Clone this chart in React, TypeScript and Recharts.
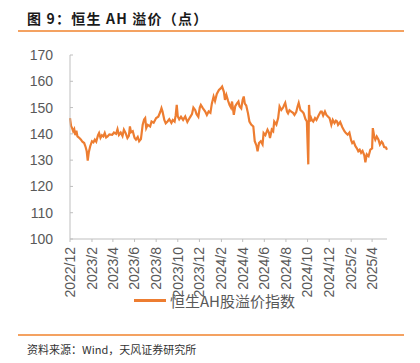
import { LineChart, Line, XAxis, YAxis } from "recharts";

const dates = [
  "2022-12-01", "2022-12-04", "2022-12-07", "2022-12-10", "2022-12-13", "2022-12-16", "2022-12-19", "2022-12-22", "2022-12-27",
  "2023-01-01", "2023-01-05", "2023-01-10", "2023-01-14", "2023-01-17", "2023-01-20", "2023-01-23", "2023-01-27",
  "2023-02-01", "2023-02-05", "2023-02-09", "2023-02-13", "2023-02-18", "2023-02-21", "2023-02-25",
  "2023-03-01", "2023-03-05", "2023-03-09", "2023-03-13", "2023-03-17", "2023-03-22", "2023-03-30",
  "2023-04-04", "2023-04-10", "2023-04-14", "2023-04-18", "2023-04-23", "2023-04-28",
  "2023-05-02", "2023-05-07", "2023-05-12", "2023-05-16", "2023-05-19", "2023-05-22", "2023-05-27",
  "2023-06-01", "2023-06-05", "2023-06-10", "2023-06-14", "2023-06-19", "2023-06-24", "2023-06-28",
  "2023-07-01", "2023-07-04", "2023-07-08", "2023-07-15", "2023-07-19", "2023-07-25",
  "2023-08-01", "2023-08-07", "2023-08-13", "2023-08-16", "2023-08-19", "2023-08-24", "2023-08-28",
  "2023-09-02", "2023-09-07", "2023-09-13", "2023-09-17", "2023-09-22", "2023-09-25", "2023-09-28",
  "2023-10-01", "2023-10-05", "2023-10-10", "2023-10-16", "2023-10-22", "2023-10-28",
  "2023-11-04", "2023-11-10", "2023-11-14", "2023-11-19", "2023-11-23", "2023-11-28",
  "2023-12-02", "2023-12-05", "2023-12-11", "2023-12-17", "2023-12-22", "2023-12-27",
  "2024-01-01", "2024-01-05", "2024-01-10", "2024-01-14", "2024-01-19", "2024-01-25", "2024-01-30",
  "2024-02-03", "2024-02-08", "2024-02-11", "2024-02-15", "2024-02-20", "2024-02-24", "2024-02-28",
  "2024-03-02", "2024-03-07", "2024-03-11", "2024-03-16", "2024-03-20", "2024-03-23", "2024-03-28",
  "2024-04-01", "2024-04-04", "2024-04-07", "2024-04-11", "2024-04-16", "2024-04-20", "2024-04-25",
  "2024-05-01", "2024-05-05", "2024-05-10", "2024-05-13", "2024-05-17", "2024-05-22", "2024-05-27", "2024-05-30",
  "2024-06-04", "2024-06-10", "2024-06-14", "2024-06-17", "2024-06-22", "2024-06-26", "2024-06-29",
  "2024-07-05", "2024-07-10", "2024-07-14", "2024-07-19", "2024-07-24", "2024-07-27", "2024-07-30",
  "2024-08-04", "2024-08-07", "2024-08-11", "2024-08-16", "2024-08-21", "2024-08-25", "2024-08-30",
  "2024-09-03", "2024-09-06", "2024-09-11", "2024-09-16", "2024-09-20", "2024-09-25", "2024-09-29",
  "2024-10-03", "2024-10-05", "2024-10-08", "2024-10-11", "2024-10-13", "2024-10-17", "2024-10-22", "2024-10-26",
  "2024-11-01", "2024-11-07", "2024-11-10", "2024-11-14", "2024-11-19", "2024-11-23", "2024-11-28",
  "2024-12-02", "2024-12-07", "2024-12-11", "2024-12-16", "2024-12-20", "2024-12-23", "2024-12-26",
  "2025-01-01", "2025-01-07", "2025-01-13", "2025-01-17", "2025-01-22", "2025-01-27",
  "2025-02-01", "2025-02-04", "2025-02-08", "2025-02-13", "2025-02-17", "2025-02-21", "2025-02-25",
  "2025-03-01", "2025-03-05", "2025-03-10", "2025-03-13", "2025-03-17", "2025-03-22", "2025-03-27",
  "2025-04-01", "2025-04-03", "2025-04-07", "2025-04-10", "2025-04-14", "2025-04-19", "2025-04-23", "2025-04-28",
  "2025-05-01", "2025-05-05", "2025-05-10", "2025-05-13",
];

const premium = [
  146, 143, 142.2, 141, 141.8, 139.5, 141.2, 139, 138.5,
  137.8, 137, 136.5, 135, 133.5, 129.8, 133, 135.3,
  137.2, 136.8, 137.8, 137, 139.5, 140.3, 138.5,
  139.5, 139, 140.3, 138.6, 139, 139.8, 139.6,
  140.5, 140, 141.8, 139.6, 140.5, 139.2,
  141.6, 140.3, 138.4, 139.2, 142.8, 140.6, 141,
  138.5, 137.8, 138.8, 137.2, 138, 143.5, 145.5,
  146, 142.2, 143.4, 142.8, 144.7, 144.2,
  146, 146.5, 148.5, 149.8, 148.5, 145.3, 144,
  144.7, 145.6, 144.2, 145.3, 144.7, 147, 151,
  146.6, 145.5, 146.5, 145.3, 146.6, 144.5,
  146.2, 147.5, 150, 149.1, 147.5, 146.5,
  150, 151, 149.7, 148.6, 147.2, 148.5,
  148, 151.5, 154.2, 152.5, 155.2, 156.7, 157.3,
  158, 156, 152.9, 154.8, 152.5, 151, 150,
  152.3, 147.2, 150.5, 151.6, 152.3, 150.5, 149.7,
  153, 154.2, 151.5, 150.8, 147.8, 144.7, 143.5,
  142.8, 137.2, 135.5, 133.4, 136.5, 137.2, 136, 140.3,
  139.5, 141.6, 140.5, 138.4, 141.6, 141, 144.7,
  143.5, 146, 150.4, 149.1, 150, 151, 151.8,
  148.5, 147.8, 149, 148.5, 148, 147.2, 148.3,
  150.5, 151.8, 149, 148.5, 147.8, 145.6, 144.7,
  128.4, 151, 144.7, 146, 145.3, 144.7, 146, 145.3,
  147, 148.5, 148.5, 147, 148.5, 147.2, 146.5,
  146, 143.4, 145.3, 144.1, 145, 144.7, 143.4,
  144.5, 142.5, 141, 140.3, 139.7, 140.5,
  137.5, 136.5, 137, 135.3, 134.5, 133.4, 134,
  132.8, 133.5, 131.8, 129.2, 132.2, 131.5, 134,
  134.5, 142.2, 139, 137.8, 139, 137.8, 135.9, 137,
  136.5, 135, 134.8, 134,
];

const tickDates = [
  "2022-12-01", "2023-02-01", "2023-04-01", "2023-06-01", "2023-08-01", "2023-10-01", "2023-12-01",
  "2024-02-01", "2024-04-01", "2024-06-01", "2024-08-01", "2024-10-01", "2024-12-01", "2025-02-01", "2025-04-01",
];
const tickLabels = [
  "2022/12", "2023/2", "2023/4", "2023/6", "2023/8", "2023/10", "2023/12",
  "2024/2", "2024/4", "2024/6", "2024/8", "2024/10", "2024/12", "2025/2", "2025/4",
];
const yTicks = [100, 110, 120, 130, 140, 150, 160, 170];

const seriesName = "恒生AH股溢价指数";

const toTime = (d: string) => Date.parse(d + "T00:00:00Z");
const data = dates.map((d, i) => ({ t: toTime(d), v: premium[i] }));
const xTicks = tickDates.map(toTime);

const LATIN = "'Liberation Sans', Arial, sans-serif";
const CJK = "'Noto Sans CJK SC', 'Noto Sans', sans-serif";
const ORANGE = "#ED7D31";

const XTick = ({ x, y, payload }: any) => {
  const idx = xTicks.indexOf(payload.value);
  return (
    <g transform={`translate(${x},${y})`}>
      <text transform="rotate(-90)" x={-3} y={0} dy="0.35em" textAnchor="end"
        fill="#595959" fontSize={14} fontFamily={LATIN}>
        {idx >= 0 ? tickLabels[idx] : ""}
      </text>
    </g>
  );
};

export default function App() {
  return (
    <div style={{ position: "fixed", left: 0, top: 0, width: 420, height: 363, background: "#fff", overflow: "hidden" }}>
      <div style={{ position: "absolute", left: 27, top: 8, fontFamily: CJK, fontWeight: 700, fontSize: 14, letterSpacing: 1.2, color: "#1a1a1a", whiteSpace: "nowrap" }}>
        图 9：恒生 AH 溢价（点）
      </div>
      <div style={{ position: "absolute", left: 18, top: 30, width: 386, height: 1.5, background: "#F4A261" }} />

      <div style={{ position: "absolute", left: 0, top: 0 }}>
        <LineChart width={420} height={363} data={data} margin={{ top: 55, right: 33, bottom: 54, left: 0 }}>
          <XAxis dataKey="t" type="number" scale="time" domain={[data[0].t, data[data.length - 1].t]}
            ticks={xTicks} interval={0} tick={<XTick />} tickSize={3} tickMargin={2} height={70}
            axisLine={{ stroke: "#BFBFBF" }} tickLine={{ stroke: "#BFBFBF" }} />
          <YAxis domain={[100, 170]} ticks={yTicks} interval={0} width={70} tickSize={-3} tickMargin={20}
            axisLine={{ stroke: "#BFBFBF" }} tickLine={{ stroke: "#BFBFBF" }}
            tick={{ fill: "#595959", fontSize: 14, fontFamily: LATIN }} />
          <Line type="linear" dataKey="v" name={seriesName} stroke={ORANGE} strokeWidth={2.2}
            dot={false} isAnimationActive={false} />
        </LineChart>
      </div>

      {/* legend sits over the bottom of the rotated date labels, as in the source */}
      <div style={{ position: "absolute", left: 134, top: 290, display: "flex", alignItems: "center", fontFamily: CJK, fontSize: 15, color: "#595959", whiteSpace: "nowrap" }}>
        <span style={{ width: 32, height: 3, background: ORANGE, display: "inline-block", marginRight: 4 }} />
        {seriesName}
      </div>

      <div style={{ position: "absolute", left: 18, top: 334, width: 386, height: 1.5, background: "#F4A261" }} />
      <div style={{ position: "absolute", left: 27, top: 341, fontFamily: CJK, fontSize: 11, color: "#333", whiteSpace: "nowrap" }}>
        资料来源：Wind，天风证券研究所
      </div>
    </div>
  );
}
